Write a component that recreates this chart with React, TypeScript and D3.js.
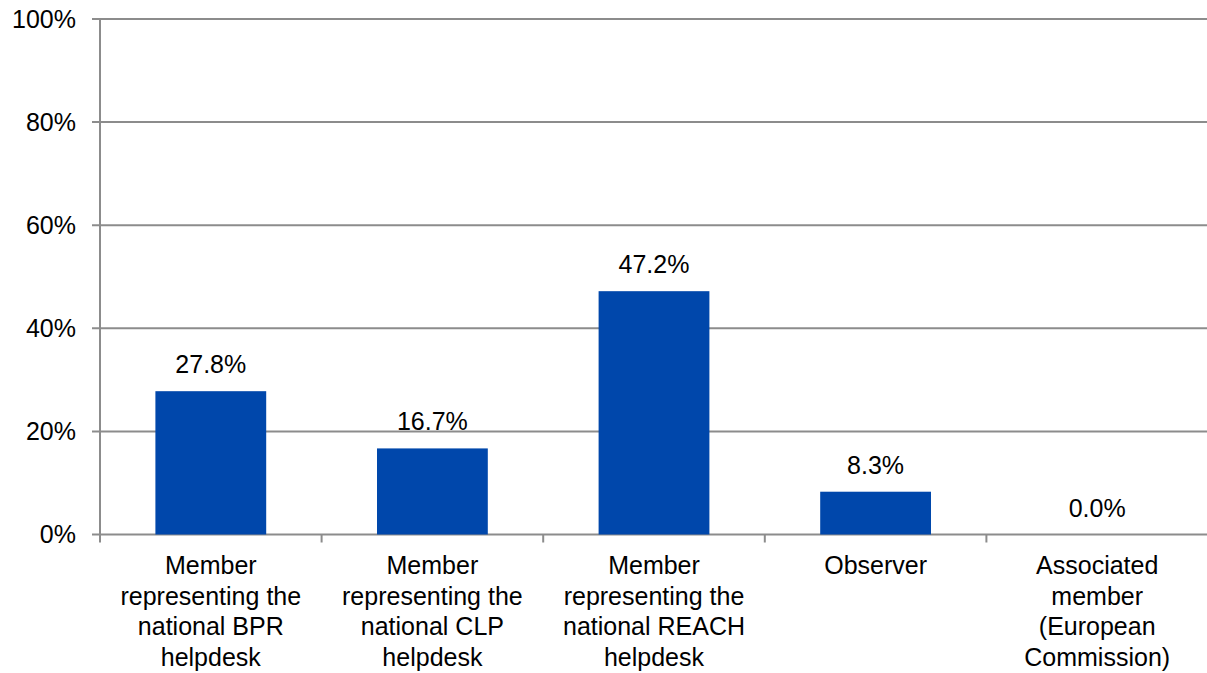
import React from "react";
import * as d3 from "d3";

const categories = [
  ["Member", "representing the", "national BPR", "helpdesk"],
  ["Member", "representing the", "national CLP", "helpdesk"],
  ["Member", "representing the", "national REACH", "helpdesk"],
  ["Observer"],
  ["Associated", "member", "(European", "Commission)"],
];
const values = [27.8, 16.7, 47.2, 8.3, 0.0];
const yTicks = [0, 20, 40, 60, 80, 100];

const W = 1207;
const H = 673;
const left = 100;
const right = 1208;
const top = 19;
const bottom = 534.5;
const FONT = "'Liberation Sans', Arial, sans-serif";
const GRID = "#8c8c8c";
const FS = 25;

export default function App() {
  const idx = categories.map((_, i) => String(i));
  const x = d3.scaleBand().domain(idx).range([left, right]).paddingInner(0.5).paddingOuter(0.25);
  const y = d3.scaleLinear().domain([0, 100]).range([bottom, top]);
  const step = (right - left) / categories.length;
  return (
    <svg width={W} height={H} style={{ position: "absolute", left: 0, top: 0, background: "#fff" }}>
      {yTicks.map((t) => (
        <g key={t}>
          <line x1={left - 8} x2={right} y1={y(t)} y2={y(t)} stroke={GRID} strokeWidth={2} />
          <text x={76} y={y(t)} dy="0.35em" textAnchor="end" fontFamily={FONT} fontSize={FS} fill="#000">
            {t}%
          </text>
        </g>
      ))}
      <line x1={left} x2={left} y1={top} y2={bottom} stroke={GRID} strokeWidth={2} />
      {d3.range(categories.length + 1).map((i) => (
        <line key={i} x1={left + i * step} x2={left + i * step} y1={bottom} y2={bottom + 8} stroke={GRID} strokeWidth={2} />
      ))}
      {values.map((v, i) => (
        <g key={i}>
          <rect x={x(String(i))!} width={x.bandwidth()} y={y(v)} height={bottom - y(v)} fill="#0047AB" />
          <text x={x(String(i))! + x.bandwidth() / 2} y={y(v) - 18} textAnchor="middle" fontFamily={FONT} fontSize={FS} fill="#000">
            {v.toFixed(1)}%
          </text>
          <text x={x(String(i))! + x.bandwidth() / 2} y={574} textAnchor="middle" fontFamily={FONT} fontSize={FS} fill="#000">
            {categories[i].map((line, j) => (
              <tspan key={j} x={x(String(i))! + x.bandwidth() / 2} y={574 + j * 30.7}>
                {line}
              </tspan>
            ))}
          </text>
        </g>
      ))}
    </svg>
  );
}
